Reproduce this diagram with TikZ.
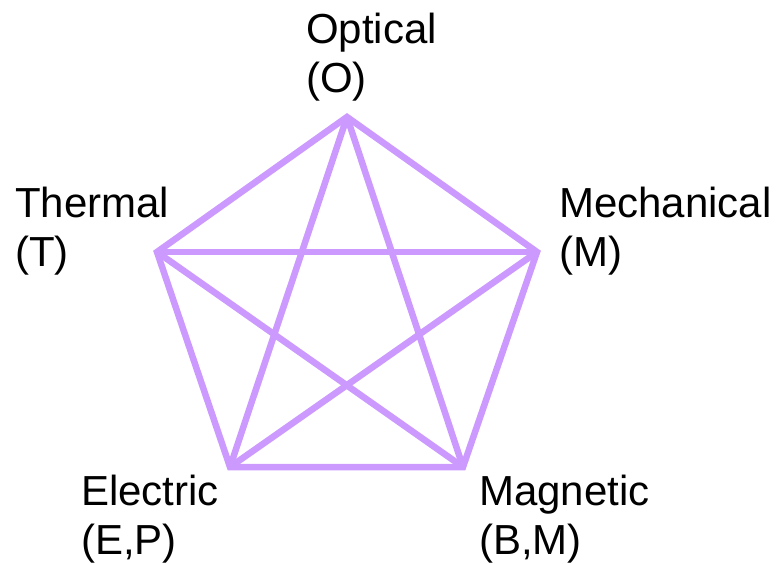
\documentclass[tikz,border=0pt]{standalone}
\usepackage{fontspec}
\setmainfont{Liberation Sans}
\usepackage{xcolor}
\usepackage{tikz}
\definecolor{linkPurple}{RGB}{204,153,255}

\begin{document}
\begin{tikzpicture}[
  x=1pt, y=-1pt,
  edge/.style={draw=linkPurple, line width=6.5pt, line join=miter},
  lbl/.style={anchor=north west, inner sep=0pt, align=left,
              font=\fontsize{42}{49}\selectfont}
]
\useasboundingbox (0,0) rectangle (778,564);
% Vertices
\coordinate (O) at (347,117);
\coordinate (M) at (537,252);
\coordinate (B) at (463,467);
\coordinate (E) at (230,467);
\coordinate (T) at (157,252);

% Outer pentagon
\draw[edge] (O) -- (M) -- (B) -- (E) -- (T) -- cycle;
% Diagonals
\draw[edge] (O) -- (E);
\draw[edge] (O) -- (B);
\draw[edge] (T) -- (M);
\draw[edge] (T) -- (B);
\draw[edge] (M) -- (E);

% Labels
\node[lbl] (optical) at (306,13) {Optical\\(O)};
\node[lbl] (thermal) at (15,187) {Thermal\\(T)};
\node[lbl] (mechanical) at (559,187) {Mechanical\\(M)};
\node[lbl] (electric) at (81,475) {Electric\\(E,P)};
\node[lbl] (magnetic) at (479,475) {Magnetic\\(B,M)};

\end{tikzpicture}
\end{document}
